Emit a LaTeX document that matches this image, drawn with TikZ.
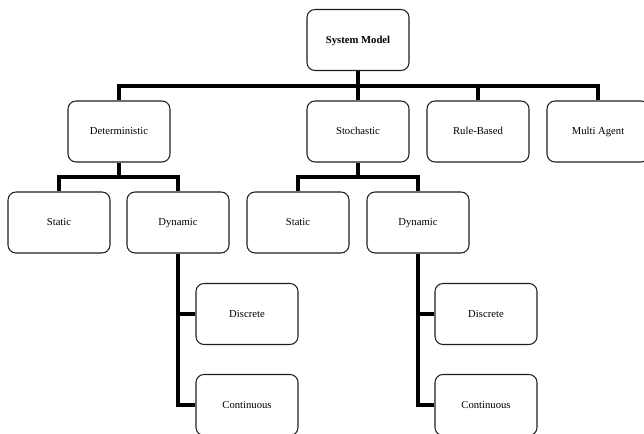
\documentclass[tikz,border=0pt]{standalone}
\usepackage{fontspec}
\setmainfont{Liberation Serif}
\usepackage{tikz}
\usetikzlibrary{positioning}

\tikzset{
  modelbox/.style={draw={rgb, 255:red, 30; green, 30; blue, 30}, line width=0.8pt, rounded corners=6pt,
    minimum width=76.5pt, minimum height=45.75pt, inner sep=0.75pt, align=center,
    text height=0.7em, text depth=0.22em,
    font=\fontsize{8}{9}\selectfont},
  branch/.style={line width=3pt, color=black}
}

\begin{document}
\begin{tikzpicture}[x=0.75pt,y=0.75pt,yscale=-1,xscale=1]
%set diagram left start at 0, and has height of 434
\useasboundingbox (0,0) rectangle (644,434);

%Shape: Rounded Rectangle (top)
\node [modelbox, font=\fontsize{8}{9}\selectfont\bfseries] (sysmodel) at (358,40) {System Model};

%Shape: Rounded Rectangle (first level)
\node [modelbox] (determ) at (119,131.5) {Deterministic};
\node [modelbox] (stoch) at (358,131.5) {Stochastic};
\node [modelbox] (rulebased) at (478,131.5) {Rule-Based};
\node [modelbox] (multiagent) at (598,131.5) {Multi Agent};

%Shape: Rounded Rectangle (second level)
\node [modelbox] (detstatic) at (59,222.5) {Static};
\node [modelbox] (detdynamic) at (178,222.5) {Dynamic};
\node [modelbox] (stostatic) at (298,222.5) {Static};
\node [modelbox] (stodynamic) at (418,222.5) {Dynamic};

%Shape: Rounded Rectangle (third level)
\node [modelbox] (detdiscrete) at (247,314) {Discrete};
\node [modelbox] (detcontinuous) at (247,405) {Continuous};
\node [modelbox] (stodiscrete) at (486,314) {Discrete};
\node [modelbox] (stocontinuous) at (486,405) {Continuous};

%Junctions
\coordinate (topbus) at (358,86);
\coordinate (detbus) at (119,177.5);
\coordinate (stobus) at (358,177.5);

%Straight Lines (top bus)
\draw [branch] (sysmodel.south) -- (topbus);
\draw [branch] (determ.north) |- (topbus) -| (multiagent.north);
\draw [branch] (topbus) -- (stoch.north);
\draw [branch] (rulebased.north) -- (rulebased.north |- topbus);

%Straight Lines (deterministic)
\draw [branch] (determ.south) -- (detbus);
\draw [branch] (detstatic.north) |- (detbus) -| (detdynamic.north);

%Straight Lines (stochastic)
\draw [branch] (stoch.south) -- (stobus);
\draw [branch] (stostatic.north) |- (stobus) -| (stodynamic.north);

%Straight Lines (dynamic branches)
\draw [branch] (detdynamic.south) |- (detcontinuous.west);
\draw [branch] (detdynamic.south |- detdiscrete.west) -- (detdiscrete.west);
\draw [branch] (stodynamic.south) |- (stocontinuous.west);
\draw [branch] (stodynamic.south |- stodiscrete.west) -- (stodiscrete.west);

\end{tikzpicture}
\end{document}
